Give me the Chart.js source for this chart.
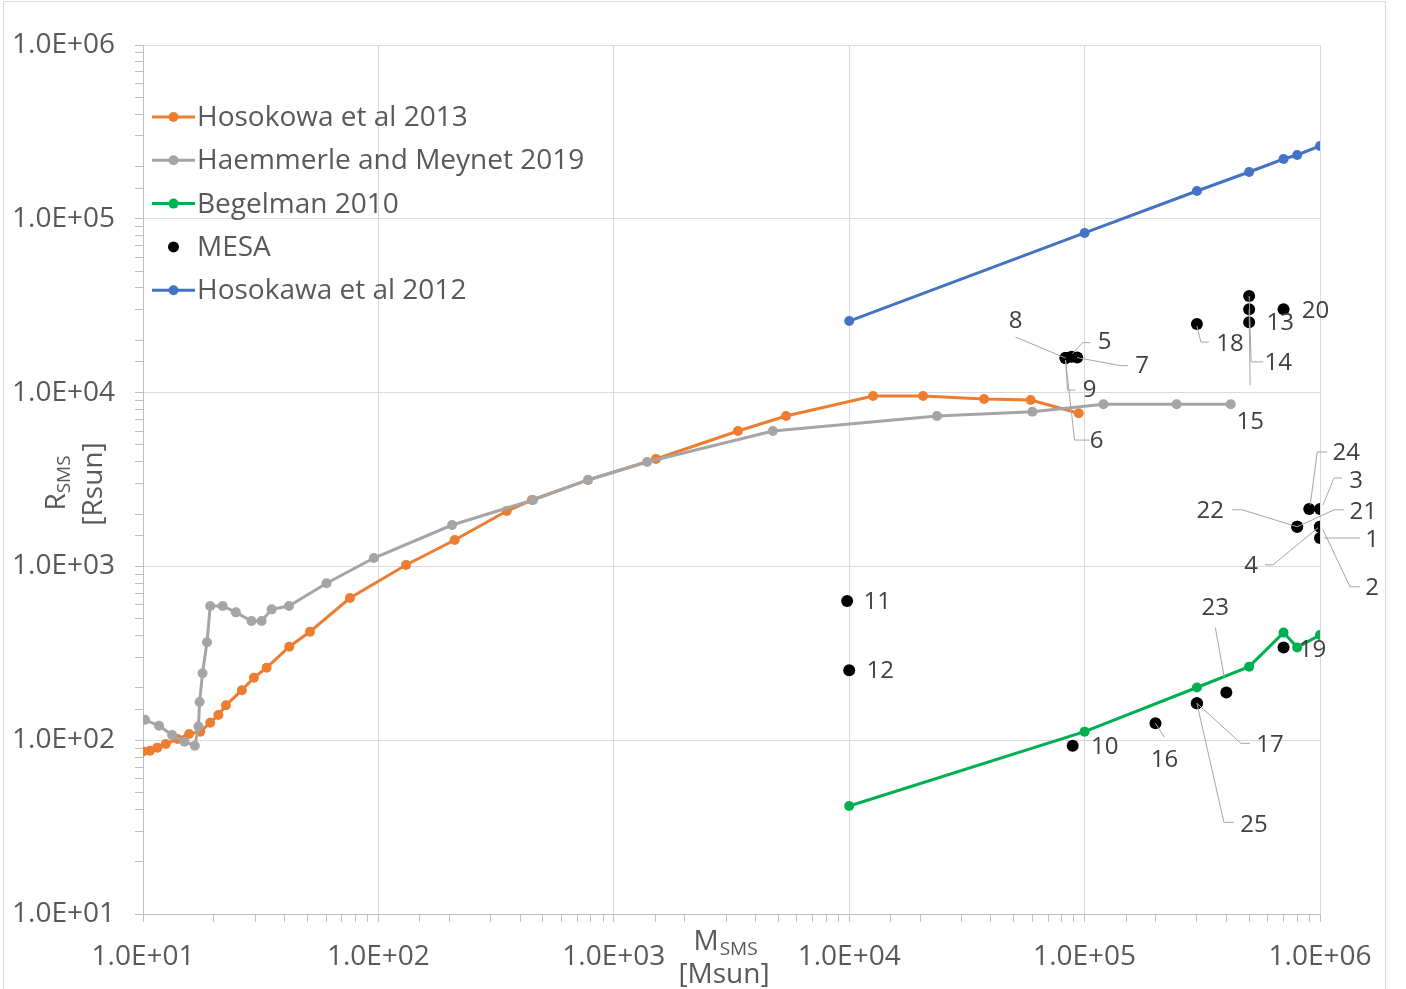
<!DOCTYPE html>
<html>
<head>
<meta charset="utf-8">
<script src="https://cdn.jsdelivr.net/npm/chart.js@4.4.1/dist/chart.umd.min.js"></script>
<style>
  html, body { margin: 0; padding: 0; background: #fff; }
  canvas { display: block; }
</style>
</head>
<body>
<canvas id="chart" width="1406" height="989"></canvas>
<script>
// Hosokowa et al 2013
const hos13X = [10, 10.7, 11.5, 12.5, 14, 15.7, 17.5, 19.3, 20.9, 22.5, 26.3, 29.6, 33.5, 41.8, 51.2, 75.7, 131, 211, 351, 449, 777, 1510, 3370, 5390, 12630, 20600, 37400, 59000, 94400];
const hos13Y = [86, 87, 90.6, 95, 101.6, 108.6, 112, 126, 139.6, 158.8, 194, 229, 261, 345, 421, 658, 1019, 1419, 2083, 2410, 3143, 4150, 6013, 7337, 9557, 9557, 9190, 9065, 7600];

// Haemmerle and Meynet 2019
const haemX = [10.2, 11.7, 13.3, 15.0, 16.6, 17.2, 17.4, 17.9, 18.7, 19.3, 21.8, 24.8, 28.9, 31.9, 35.2, 41.7, 60.2, 95.7, 205.6, 454, 777, 1384, 4740, 23600, 60000, 120200, 246000, 417600];
const haemY = [131, 121, 107, 98, 93, 120, 166, 243, 366, 592, 592, 544, 485, 485, 566, 592, 800, 1117, 1730, 2410, 3143, 3990, 6013, 7337, 7766, 8564, 8564, 8564];

// Begelman 2010
const begX = [1e4, 1e5, 3e5, 5e5, 7e5, 8e5, 1e6];
const begY = [41.8, 112, 201, 265, 416, 342, 403];

// Hosokawa et al 2012
const hos12X = [1e4, 1e5, 3e5, 5e5, 7e5, 8e5, 1e6];
const hos12Y = [25800, 82900, 144500, 185900, 220900, 232900, 262300];

// MESA runs
const mesaLabels = ['1','2','3','4','5','6','7','8','9','10','11','12','13','14','15','16','17','18','19','20','21','22','23','24','25'];
const mesaX = [1e6, 1e6, 1e6, 1e6, 8.8e4, 8.3e4, 9.3e4, 8.3e4, 8.3e4, 8.9e4, 9.8e3, 1e4, 5e5, 5e5, 5e5, 2e5, 3e5, 3e5, 7e5, 7e5, 8e5, 8e5, 4e5, 9e5, 3e5];
const mesaY = [1456, 1690, 2140, 1690, 16100, 15800, 15900, 15800, 15800, 93, 632, 253, 25400, 36000, 30200, 125, 163, 24800, 342, 30200, 1690, 1690, 188, 2140, 163];

// axis decades
const decadeTicks = [1e1, 1e2, 1e3, 1e4, 1e5, 1e6];

// label placement (pixel offsets from the point): text centre, leader polyline
const labelLayout = {
  '1':  { t: [52, 2],   l: [[40, 0], [4, 0]] },
  '2':  { t: [52, 61],  l: [[40, 60], [30, 60], [3, 3]] },
  '3':  { t: [36, -28], l: [[22, -31], [14, -31], [3, -4]] },
  '4':  { t: [-69, 39], l: [[-55, 38], [-47, 38], [-2, 1]] },
  '5':  { t: [33, -14], l: [[19, -14], [11, -14], [1, -3]] },
  '6':  { t: [31, 83],  l: [[24, 82], [9, 82], [0, 2]] },
  '7':  { t: [65, 9],   l: [[51, 8], [43, 8], [0, 0]] },
  '8':  { t: [-50, -37], l: [[-50, -21], [0, 0]] },
  '9':  { t: [24, 32],  l: [[10, 32], [2, 32], [0, 2]] },
  '10': { t: [32, 1] },
  '11': { t: [30, 1] },
  '12': { t: [31, 1] },
  '13': { t: [31, 1] },
  '14': { t: [29, 67],  l: [[14, 66], [2, 66], [0, 0]] },
  '15': { t: [1, 113],  l: [[1, 76], [0, 0]] },
  '16': { t: [9, 37],   l: [[9, 14], [0, 0]] },
  '17': { t: [73, 42],  l: [[53, 40], [44, 40], [0, 0]] },
  '18': { t: [33, 20],  l: [[12, 18], [4, 18], [0, 2]] },
  '19': { t: [29, 3] },
  '20': { t: [32, 2] },
  '21': { t: [66, -15], l: [[47, -17], [37, -17], [0, 0]] },
  '22': { t: [-87, -16], l: [[-65, -17], [-55, -17], [0, 0]] },
  '23': { t: [-11, -84], l: [[-11, -65], [-2, -15]] },
  '24': { t: [37, -56], l: [[18, -57], [8, -57], [1, -4]] },
  '25': { t: [57, 122], l: [[37, 119], [27, 119], [0, 0]] }
};

const FONT = '"Open Sans", "Noto Sans", sans-serif';
const pts = (xs, ys) => xs.map((x, i) => ({ x: x, y: ys[i] }));
const isDecade = v => Math.abs(Math.log10(v) - Math.round(Math.log10(v))) < 1e-9;
const sci = v => '1.0E+' + String(Math.round(Math.log10(v))).padStart(2, '0');

const legendItems = [
  { text: 'Hosokowa et al 2013', color: '#ED7D31', line: true },
  { text: 'Haemmerle and Meynet 2019', color: '#A5A5A5', line: true },
  { text: 'Begelman 2010', color: '#00B050', line: true },
  { text: 'MESA', color: '#000000', line: false },
  { text: 'Hosokawa et al 2012', color: '#4472C4', line: true }
];

const extras = {
  id: 'extras',
  beforeDraw(chart) {
    const c = chart.ctx;
    c.save();
    c.fillStyle = '#ffffff';
    c.fillRect(0, 0, chart.width, chart.height);
    c.strokeStyle = '#d9d9d9';
    c.lineWidth = 1;
    c.strokeRect(3.5, 1.5, 1382, 1010);
    c.restore();
  },
  afterDatasetsDraw(chart) {
    const c = chart.ctx;
    const xs = chart.scales.x, ys = chart.scales.y;
    c.save();
    // leader lines
    c.strokeStyle = '#a6a6a6';
    c.lineWidth = 1;
    mesaLabels.forEach((lab, i) => {
      const lay = labelLayout[lab];
      if (!lay.l) return;
      const px = xs.getPixelForValue(mesaX[i]);
      const py = ys.getPixelForValue(mesaY[i]);
      c.beginPath();
      lay.l.forEach((o, k) => {
        if (k === 0) c.moveTo(px + o[0], py + o[1]);
        else c.lineTo(px + o[0], py + o[1]);
      });
      c.stroke();
    });
    // label text
    c.fillStyle = '#404040';
    c.font = '24px ' + FONT;
    c.textAlign = 'center';
    c.textBaseline = 'middle';
    mesaLabels.forEach((lab, i) => {
      const lay = labelLayout[lab];
      const px = xs.getPixelForValue(mesaX[i]);
      const py = ys.getPixelForValue(mesaY[i]);
      c.fillText(lab, px + lay.t[0], py + lay.t[1]);
    });
    c.restore();
  },
  afterDraw(chart) {
    const c = chart.ctx;
    c.save();
    // legend
    c.font = '28px ' + FONT;
    c.textBaseline = 'middle';
    c.textAlign = 'left';
    legendItems.forEach((it, i) => {
      const y = 117 + i * 43.3;
      if (it.line) {
        c.strokeStyle = it.color;
        c.lineWidth = 3;
        c.beginPath();
        c.moveTo(152, y);
        c.lineTo(195, y);
        c.stroke();
      }
      c.fillStyle = it.color;
      c.beginPath();
      c.arc(173.5, y, it.line ? 5 : 5.5, 0, Math.PI * 2);
      c.fill();
      c.fillStyle = '#595959';
      c.fillText(it.text, 197, y + 1);
    });

    // x axis title: M_SMS [Msun]
    c.fillStyle = '#595959';
    c.textBaseline = 'alphabetic';
    c.font = '28px ' + FONT;
    const mW = c.measureText('M').width;
    c.font = '19px ' + FONT;
    const sW = c.measureText('SMS').width;
    let x0 = 725 - (mW + sW) / 2;
    c.font = '28px ' + FONT;
    c.fillText('M', x0, 950);
    c.font = '19px ' + FONT;
    c.fillText('SMS', x0 + mW + 1, 955);
    c.font = '28px ' + FONT;
    c.textAlign = 'center';
    c.fillText('[Msun]', 724, 983);

    // y axis title: R_SMS [Rsun], rotated
    c.translate(0, 0);
    c.save();
    c.translate(55, 483);
    c.rotate(-Math.PI / 2);
    c.textAlign = 'left';
    c.font = '28px ' + FONT;
    const rW = c.measureText('R').width;
    c.font = '19px ' + FONT;
    const s2 = c.measureText('SMS').width;
    const xr = -(rW + s2) / 2;
    c.font = '28px ' + FONT;
    c.fillText('R', xr, 10);
    c.font = '19px ' + FONT;
    c.fillText('SMS', xr + rW, 15);
    c.restore();
    c.save();
    c.translate(92, 484);
    c.rotate(-Math.PI / 2);
    c.textAlign = 'center';
    c.font = '28px ' + FONT;
    c.fillText('[Rsun]', 0, 10);
    c.restore();

    c.restore();
  }
};

const lineSet = (label, xs, ys, color, order) => ({
  label: label,
  data: pts(xs, ys),
  showLine: true,
  borderColor: color,
  backgroundColor: color,
  borderWidth: 3,
  pointRadius: 5,
  pointBorderWidth: 0,
  pointHoverRadius: 5,
  tension: 0,
  order: order
});

const gridColor = ctx => (ctx.tick && isDecade(ctx.tick.value)) ? '#d9d9d9' : 'rgba(0,0,0,0)';

new Chart(document.getElementById('chart').getContext('2d'), {
  type: 'scatter',
  data: {
    datasets: [
      lineSet('Hosokowa et al 2013', hos13X, hos13Y, '#ED7D31', 2),
      lineSet('Haemmerle and Meynet 2019', haemX, haemY, '#A5A5A5', 1),
      lineSet('Begelman 2010', begX, begY, '#00B050', 3),
      {
        label: 'MESA',
        data: pts(mesaX, mesaY),
        showLine: false,
        backgroundColor: '#000000',
        borderColor: '#000000',
        pointRadius: 6,
        pointBorderWidth: 0,
        order: 0
      },
      lineSet('Hosokawa et al 2012', hos12X, hos12Y, '#4472C4', 4)
    ]
  },
  options: {
    responsive: false,
    devicePixelRatio: 1,
    animation: false,
    events: [],
    layout: { padding: { left: 0, right: 86, top: 45, bottom: 0 } },
    plugins: {
      legend: { display: false },
      tooltip: { enabled: false }
    },
    scales: {
      x: {
        type: 'logarithmic',
        min: decadeTicks[0],
        max: decadeTicks[decadeTicks.length - 1],
        afterFit: s => { s.height = 75; },
        border: { color: '#bfbfbf', width: 1 },
        grid: { color: gridColor, tickColor: '#bfbfbf', tickLength: 8, lineWidth: 1 },
        ticks: {
          autoSkip: false,
          maxRotation: 0,
          minRotation: 0,
          padding: 18,
          color: '#595959',
          font: { family: FONT, size: 28 },
          callback: v => isDecade(v) ? sci(v) : ''
        }
      },
      y: {
        type: 'logarithmic',
        min: decadeTicks[0],
        max: decadeTicks[decadeTicks.length - 1],
        afterFit: s => { s.width = 143; },
        border: { color: '#bfbfbf', width: 1 },
        grid: { color: gridColor, tickColor: '#bfbfbf', tickLength: 8, lineWidth: 1 },
        ticks: {
          autoSkip: false,
          padding: 20,
          color: '#595959',
          font: { family: FONT, size: 28 },
          callback: v => isDecade(v) ? sci(v) : ''
        }
      }
    }
  },
  plugins: [extras]
});
</script>
</body>
</html>
